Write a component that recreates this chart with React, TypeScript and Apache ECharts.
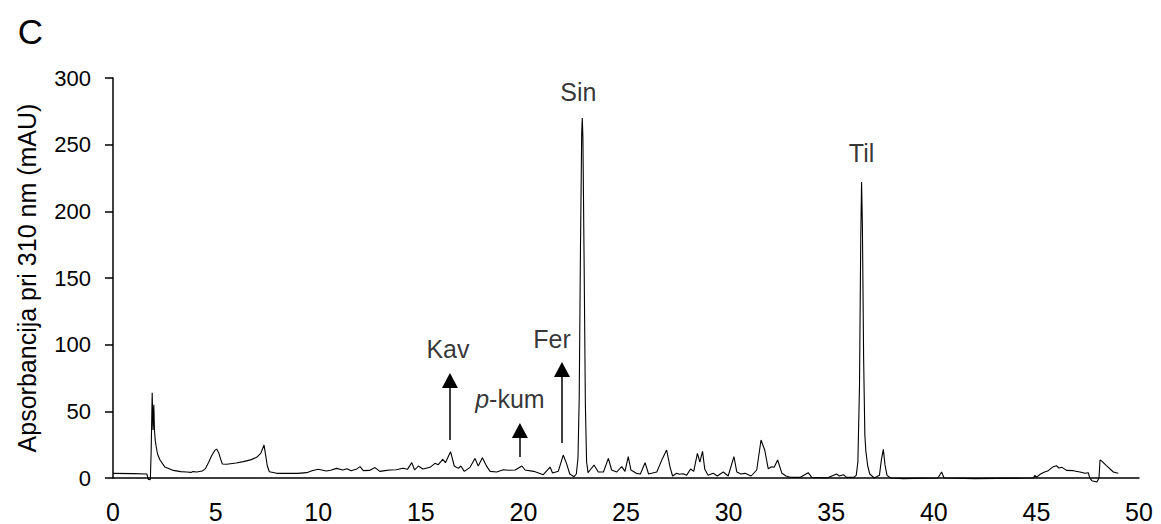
import React, { useEffect, useRef } from "react";
import * as echarts from "echarts";

// Retention time (min) and absorbance at 310 nm (mAU) of the chromatogram trace
const retentionTimes = [
  0, 1.0, 1.65, 1.72, 1.82, 1.86, 1.91, 1.95, 1.99, 2.02, 2.06, 2.1, 2.17, 2.29, 2.53, 2.94, 3.3, 3.59, 3.8, 3.9,
  4.08, 4.35, 4.5, 4.65, 4.8, 4.95, 5.05, 5.15, 5.25, 5.33, 5.54, 6.0, 6.35, 6.7, 7.0, 7.2, 7.36, 7.45, 7.52, 7.62,
  7.98, 8.5, 9.0, 9.44, 9.7, 10.0, 10.4, 10.6, 10.9, 11.2, 11.4, 11.6, 11.85, 12.04, 12.2, 12.5, 12.77, 13.0, 13.25, 13.5,
  13.8, 14.13, 14.35, 14.56, 14.7, 14.88, 15.1, 15.3, 15.45, 15.69, 15.85, 16.07, 16.2, 16.45, 16.63, 16.83, 16.95, 17.12, 17.4, 17.64,
  17.8, 18.0, 18.22, 18.38, 18.7, 19.02, 19.3, 19.6, 19.93, 20.08, 20.5, 20.97, 21.3, 21.42, 21.7, 21.94, 22.1, 22.26, 22.47, 22.58,
  22.66, 22.72, 22.78, 22.84, 22.87, 22.9, 22.96, 23.02, 23.08, 23.15, 23.25, 23.44, 23.65, 23.9, 24.14, 24.3, 24.55, 24.79, 24.95, 25.11,
  25.24, 25.5, 25.7, 25.93, 26.1, 26.5, 26.78, 26.98, 27.15, 27.27, 27.47, 27.6, 27.78, 27.95, 28.15, 28.3, 28.48, 28.6, 28.73, 28.84,
  29.0, 29.25, 29.45, 29.74, 29.98, 30.26, 30.4, 30.6, 30.8, 31.1, 31.37, 31.58, 31.76, 31.93, 32.1, 32.22, 32.39, 32.6, 32.8, 33.0,
  33.5, 33.88, 34.05, 34.8, 35.26, 35.4, 35.59, 35.75, 36.1, 36.22, 36.3, 36.38, 36.44, 36.48, 36.52, 36.58, 36.64, 36.69, 36.78, 36.88,
  37.1, 37.35, 37.45, 37.54, 37.62, 37.72, 37.9, 38.5, 40.2, 40.38, 40.5, 42.0, 44.85, 44.93, 45.0, 45.2, 45.4, 45.58, 45.82, 45.98,
  46.1, 46.25, 46.47, 46.8, 47.12, 47.37, 47.53, 47.6, 47.7, 47.95, 48.05, 48.1, 48.2, 48.4, 48.75, 48.99,
];

const absorbance = [
  3.5, 3.3, 3.0, -1, -1.2, 20, 64, 36, 55, 36, 28, 24, 18, 13.5, 8.2, 5.7, 4.8, 4.5, 4.2, 4.8,
  4.5, 5.2, 7, 11.5, 16.5, 20.5, 21.7, 19, 14, 10.5, 10.3, 11.2, 12.3, 13.6, 15.5, 18.5, 24.7, 16, 9, 4.7,
  3.5, 3.6, 3.5, 4, 5.5, 6.5, 5.2, 5.8, 7.2, 6, 7, 5.5, 6.5, 8.5, 5.5, 5.7, 7.8, 5, 5.5, 6,
  6.2, 7.3, 6.5, 11.5, 6, 9, 6.7, 7.5, 8, 11, 10, 14, 11.5, 19.7, 9, 7.2, 9, 5, 8, 14.7,
  9, 15.2, 8.5, 5, 4.5, 6.2, 5.8, 6, 9, 6, 5, 2.5, 8.2, 3.7, 5, 17.2, 11, 3, 1, 3,
  15, 60, 170, 258, 270, 255, 160, 55, 12, 4, 6, 9.7, 4.5, 4.5, 14.7, 6, 4.5, 8.5, 5, 16,
  6, 3.5, 3, 11.5, 3, 4.5, 14.7, 21, 8, 1.5, 3.5, 2.8, 3.2, 2, 6.7, 5, 18.5, 12, 20, 6.5,
  2, 3.5, 1.5, 4.5, 1.5, 16, 4.5, 3, 3.5, 1.5, 6, 28.5, 21, 7, 8.5, 8, 13.5, 3.5, 1.5, 0.5,
  0.5, 4, 0.5, 0, 3, 1.5, 2.5, 0.5, 0.5, 2, 12, 70, 180, 222, 190, 90, 32, 20, 9, 3,
  0, 2, 14, 21.5, 10, 2, 0, -0.5, 0, 4.5, 0, -0.5, 0, 2, 0.5, 3, 4.5, 5.5, 8.5, 9.2,
  7.5, 8, 5.7, 5.5, 4.5, 3.5, 4, 0, -2, -3, 0, 13.5, 12.5, 9.5, 4.5, 3.5,
];

// Peaks named at their apex
const peakNames = ["Sin", "Til"];
const peakTimes = [22.87, 36.48];
const peakHeights = [270, 222];

// Peaks marked with an upward arrow
const arrowNames = ["Kav", "p-kum", "Fer"];
const arrowTimes = [16.42, 19.83, 21.88];
const arrowBases = [28.5, 15.75, 26.25];
const arrowTips = [78.75, 41.25, 87];

const FONT = "'Liberation Sans', Arial, Helvetica, sans-serif";
const HEAD_HALF = 5.6; // half the arrowhead height, in mAU

export default function App() {
  const ref = useRef<HTMLDivElement>(null);

  useEffect(() => {
    if (!ref.current) return;
    const chart = echarts.init(ref.current, null, { renderer: "svg" });

    const trace = retentionTimes.map((t, i) => [t, absorbance[i]]);

    const peakLabelOffsets = [
      [-4, -26],
      [0, -29],
    ];
    const arrowLabelOffsets = [
      [-2, -24.5],
      [-10, -24.5],
      [-10, -23],
    ];

    const labelItems = [
      ...peakNames.map((name, i) => ({
        name,
        value: [peakTimes[i], peakHeights[i]],
        label: { offset: peakLabelOffsets[i] },
      })),
      ...arrowNames.map((name, i) => ({
        name,
        value: [arrowTimes[i], arrowTips[i]],
        label: {
          offset: arrowLabelOffsets[i],
          formatter: name === "p-kum" ? "{it|p}-kum" : name,
        },
      })),
    ];

    chart.setOption({
      animation: false,
      backgroundColor: "#ffffff",
      graphic: [
        {
          type: "text",
          x: 30.5,
          y: 31,
          style: {
            text: "C",
            font: `35px ${FONT}`,
            fill: "#000",
            textAlign: "center",
            textVerticalAlign: "middle",
          },
        },
      ],
      grid: { left: 113, right: 22, top: 78, bottom: 46, containLabel: false },
      xAxis: {
        type: "value",
        min: 0,
        max: 50,
        interval: 5,
        axisLine: { show: true, lineStyle: { color: "#000", width: 1.5 } },
        axisTick: { show: false },
        splitLine: { show: false },
        axisLabel: { color: "#000", fontSize: 25, fontFamily: FONT, margin: 21 },
      },
      yAxis: {
        type: "value",
        min: 0,
        max: 300,
        interval: 50,
        name: "Apsorbancija pri 310 nm (mAU)",
        nameLocation: "middle",
        nameGap: 74,
        nameTextStyle: { color: "#000", fontSize: 25, fontFamily: FONT },
        axisLine: { show: true, onZero: false, lineStyle: { color: "#000", width: 1.5 } },
        axisTick: { show: true, inside: false, length: 8, lineStyle: { color: "#000", width: 1.5 } },
        splitLine: { show: false },
        axisLabel: { color: "#000", fontSize: 22, fontFamily: FONT, margin: 22 },
      },
      series: [
        {
          type: "line",
          data: trace,
          symbol: "none",
          clip: false,
          lineStyle: { color: "#000", width: 1.1 },
          silent: true,
        },
        {
          type: "scatter",
          data: labelItems,
          symbolSize: 0,
          silent: true,
          z: 5,
          label: {
            show: true,
            position: "inside",
            color: "#000",
            fontSize: 25,
            fontFamily: FONT,
            formatter: (p: any) => p.name,
            rich: {
              it: { fontStyle: "italic", fontSize: 25, fontFamily: FONT, color: "#000" },
            },
          },
          markLine: {
            silent: true,
            symbol: ["none", "triangle"],
            symbolSize: [16, 15],
            label: { show: false },
            lineStyle: { color: "#000", width: 1.5, type: "solid" },
            data: arrowNames.map((_, i) => [
              { coord: [arrowTimes[i], arrowBases[i]] },
              { coord: [arrowTimes[i], arrowTips[i] - HEAD_HALF] },
            ]),
          },
        },
      ],
    });

    return () => chart.dispose();
  }, []);

  return (
    <div
      ref={ref}
      style={{ position: "fixed", left: 0, top: 0, width: 1161, height: 524, background: "#fff" }}
    />
  );
}
